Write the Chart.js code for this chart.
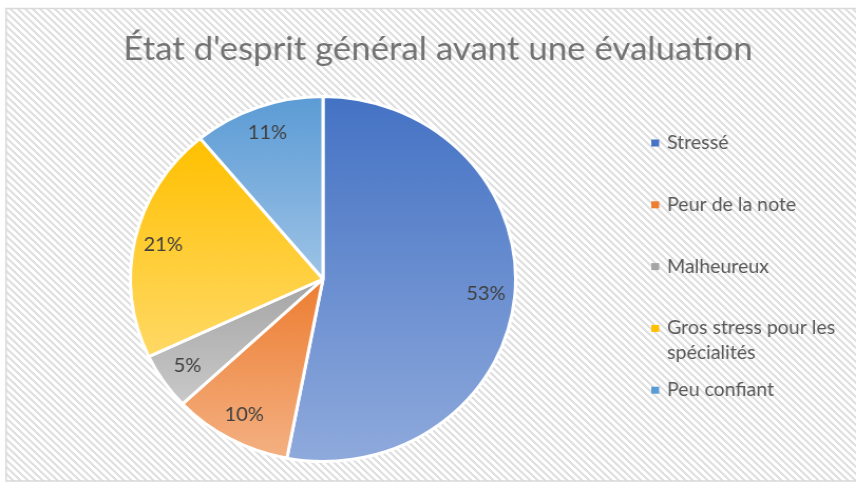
<!DOCTYPE html>
<html>
<head>
<meta charset="utf-8">
<script src="https://cdn.jsdelivr.net/npm/chart.js@4"></script>
<style>
  html, body { margin: 0; padding: 0; background: #fff; overflow: hidden; }
  #wrap { width: 811px; height: 483px; transform: scaleX(1.0555); transform-origin: 0 0; }
</style>
</head>
<body>
<div id="wrap"><canvas id="camembert"></canvas></div>
<script>
// donnees
const titre = "État d'esprit général avant une évaluation";
const labels = ["Stressé", "Peur de la note", "Malheureux", "Gros stress pour les spécialités", "Peu confiant"];
const values = [53, 10, 5, 21, 11];
const topColors = ["#4472C4", "#ED7D31", "#A5A5A5", "#FFC000", "#5B9BD5"];
const bottomColors = ["#8FAADC", "#F4B183", "#C9C9C9", "#FFD966", "#9DC3E6"];

const police = "Lato, 'Open Sans', sans-serif";

// motif hachure (fond excel)
const motif = document.createElement("canvas");
motif.width = 7;
motif.height = 7;
const mctx = motif.getContext("2d");
mctx.fillStyle = "#fff";
mctx.fillRect(0, 0, 7, 7);
mctx.fillStyle = "#e0e0e0";
for (let x = 0; x < 7; x++) {
  for (let y = 0; y < 7; y++) {
    if (((x - y) % 7 + 7) % 7 < 3) mctx.fillRect(x, y, 1, 1);
  }
}

// degrade vertical par part
const sliceFill = (context) => {
  const chart = context.chart;
  const area = chart.chartArea;
  const i = context.dataIndex;
  if (!area || i === undefined) return topColors[i || 0];
  const total = values.reduce((a, b) => a + b, 0);
  let avant = 0;
  for (let k = 0; k < i; k++) avant += values[k];
  const a0 = -Math.PI / 2 + (avant / total) * Math.PI * 2;
  const a1 = a0 + (values[i] / total) * Math.PI * 2;
  const cx = (area.left + area.right) / 2;
  const cy = (area.top + area.bottom) / 2;
  const r = Math.min(area.width, area.height) / 2;
  const ys = [cy, cy + r * Math.sin(a0), cy + r * Math.sin(a1)];
  if (a0 < Math.PI / 2 && a1 > Math.PI / 2) ys.push(cy + r);
  if (a0 < Math.PI * 1.5 && a1 > Math.PI * 1.5) ys.push(cy - r);
  const g = chart.ctx.createLinearGradient(0, Math.min(...ys), 0, Math.max(...ys));
  g.addColorStop(0, topColors[i]);
  g.addColorStop(1, bottomColors[i]);
  return g;
};

const decor = {
  id: "decor",
  beforeDraw: (chart) => {
    const ctx = chart.ctx;
    ctx.save();
    ctx.fillStyle = "#fff";
    ctx.fillRect(0, 0, chart.width, chart.height);
    ctx.fillStyle = ctx.createPattern(motif, "repeat");
    ctx.fillRect(6, 9, chart.width, 472);
    ctx.strokeStyle = "#d9d9d9";
    ctx.lineWidth = 1.5;
    ctx.strokeRect(5.7, 8.5, chart.width + 10, 472.5);
    // titre
    ctx.fillStyle = "#737373";
    ctx.font = "33px " + police;
    ctx.textAlign = "center";
    ctx.textBaseline = "middle";
    ctx.fillText(titre, 415, 49);
    ctx.restore();
  },
  afterDatasetsDraw: (chart) => {
    const ctx = chart.ctx;
    const meta = chart.getDatasetMeta(0);
    ctx.save();
    ctx.fillStyle = "#404040";
    ctx.font = "19px " + police;
    ctx.textAlign = "center";
    ctx.textBaseline = "middle";
    meta.data.forEach((arc, i) => {
      const p = arc.getProps(["x", "y", "startAngle", "endAngle", "outerRadius"], true);
      const mid = (p.startAngle + p.endAngle) / 2;
      const d = p.outerRadius * 0.85;
      ctx.fillText(values[i] + "%", p.x + Math.cos(mid) * d, p.y + Math.sin(mid) * d);
    });
    ctx.restore();
  },
  afterDraw: (chart) => {
    const ctx = chart.ctx;
    ctx.save();
    ctx.font = "18.5px " + police;
    ctx.textBaseline = "middle";
    ctx.textAlign = "left";
    labels.forEach((lab, i) => {
      const y = 143 + i * 61.8;
      ctx.fillStyle = topColors[i];
      ctx.fillRect(617, y - 3.5, 7.5, 7);
      // retour a la ligne
      const mots = lab.split(" ");
      const lignes = [];
      let ligne = "";
      mots.forEach((m) => {
        const essai = ligne ? ligne + " " + m : m;
        if (ctx.measureText(essai).width > 172 && ligne) {
          lignes.push(ligne);
          ligne = m;
        } else {
          ligne = essai;
        }
      });
      lignes.push(ligne);
      ctx.fillStyle = "#595959";
      lignes.forEach((l, k) => ctx.fillText(l, 632, y + k * 25));
    });
    ctx.restore();
  },
};

const graficoPie = new Chart(document.getElementById("camembert"), {
  type: "pie",
  data: {
    labels: labels,
    datasets: [
      {
        data: values,
        backgroundColor: sliceFill,
        borderColor: "#fff",
        borderWidth: 3,
      },
    ],
  },
  options: {
    responsive: true,
    maintainAspectRatio: false,
    animation: false,
    layout: {
      padding: { left: 122, top: 95, right: 321, bottom: 20 },
    },
    plugins: {
      legend: { display: false },
      title: { display: false },
      tooltip: { enabled: false },
    },
  },
  plugins: [decor],
});
</script>
</body>
</html>
